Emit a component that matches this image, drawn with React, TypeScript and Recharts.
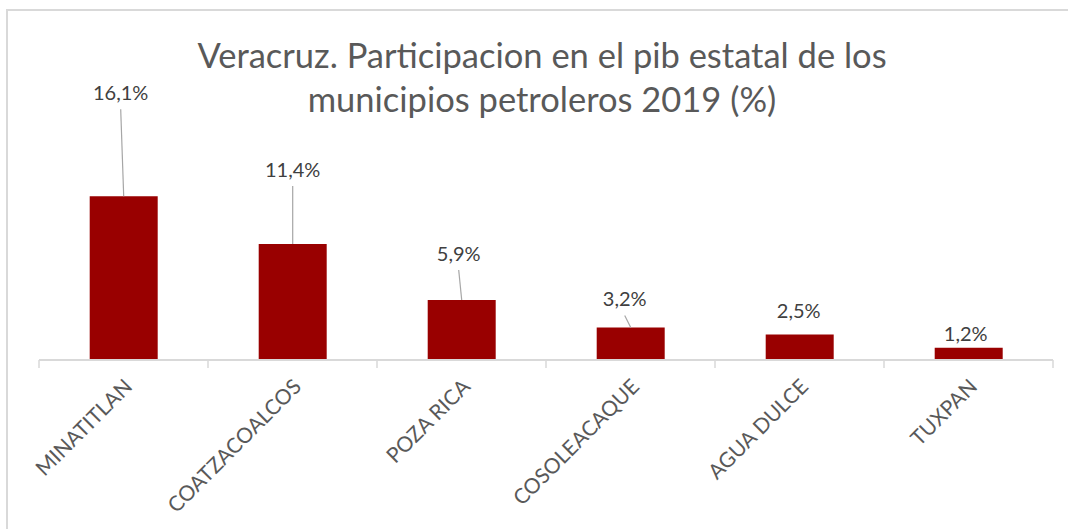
import React from "react";
import { BarChart, Bar, XAxis, YAxis, LabelList } from "recharts";

const categories = ["MINATITLAN", "COATZACOALCOS", "POZA RICA", "COSOLEACAQUE", "AGUA DULCE", "TUXPAN"];
const shares = [16.1, 11.4, 5.9, 3.2, 2.5, 1.2];

// manual label placement (as dragged in the original)
const labelLift = [104, 75, 47, 29, 25, 15];
const labelShift = [-3, 0, -3, -6, -1, -3];
const hasLeader = [true, true, true, true, false, false];

const data = categories.map((name, i) => ({ name, value: shares[i] }));

const FONT = "Lato, 'Open Sans', sans-serif";
const BAR_COLOR = "#990000";
const GRID = "#d9d9d9";

function fmt(v: number) {
  return v.toFixed(1).replace(".", ",") + "%";
}

function ValueLabel(props: any) {
  const { x, y, width, value } = props;
  let index = props.index;
  if (index == null) index = shares.indexOf(value);
  const cx = x + width / 2;
  const lx = cx + labelShift[index];
  const ly = y - labelLift[index];
  return (
    <g>
      {hasLeader[index] && (
        <line x1={lx} y1={ly + 17} x2={cx} y2={y} stroke="#a6a6a6" strokeWidth={1.2} />
      )}
      <text
        x={lx}
        y={ly}
        textAnchor="middle"
        dominantBaseline="central"
        fill="#404040"
        fontSize={20}
        fontFamily={FONT}
      >
        {fmt(value)}
      </text>
    </g>
  );
}

function CategoryTick(props: any) {
  const { x, y, payload, index } = props;
  const half = payload?.offset || 84.5;
  const tx = x + 10;
  const ty = y + 28;
  return (
    <g>
      <line x1={x - half} y1={y} x2={x - half} y2={y + 8} stroke={GRID} strokeWidth={1.5} />
      {index === categories.length - 1 && (
        <line x1={x + half} y1={y} x2={x + half} y2={y + 8} stroke={GRID} strokeWidth={1.5} />
      )}
      <text
        x={tx}
        y={ty}
        transform={`rotate(-45 ${tx} ${ty})`}
        textAnchor="end"
        fill="#595959"
        fontSize={21}
        fontFamily={FONT}
      >
        {payload.value}
      </text>
    </g>
  );
}

export default function App() {
  return (
    <div
      style={{
        position: "absolute",
        left: 0,
        top: 0,
        width: 1068,
        height: 529,
        overflow: "hidden",
        background: "#fff",
        fontFamily: FONT,
      }}
    >
      <div
        style={{
          position: "absolute",
          left: 6,
          top: 9,
          width: 1100,
          height: 600,
          border: `2px solid ${GRID}`,
          boxSizing: "border-box",
        }}
      />
      <div
        style={{
          position: "absolute",
          left: 0,
          width: 1084,
          top: 33,
          textAlign: "center",
          color: "#595959",
          fontSize: 34.5,
          lineHeight: "44px",
        }}
      >
        Veracruz. Participacion en el pib estatal de los
        <br />
        municipios petroleros 2019 (%)
      </div>
      <div style={{ position: "absolute", left: 0, top: 0 }}>
        <BarChart
          width={1068}
          height={529}
          data={data}
          margin={{ top: 177, right: 15, bottom: 69, left: 39 }}
          barCategoryGap="30%"
        >
          <YAxis hide domain={[0, 18]} />
          <XAxis
            dataKey="name"
            interval={0}
            height={100}
            tickSize={0}
            tickMargin={0}
            tickLine={false}
            axisLine={{ stroke: GRID, strokeWidth: 2 }}
            tick={<CategoryTick />}
          />
          <Bar dataKey="value" fill={BAR_COLOR} isAnimationActive={false}>
            <LabelList dataKey="value" content={<ValueLabel />} />
          </Bar>
        </BarChart>
      </div>
    </div>
  );
}
